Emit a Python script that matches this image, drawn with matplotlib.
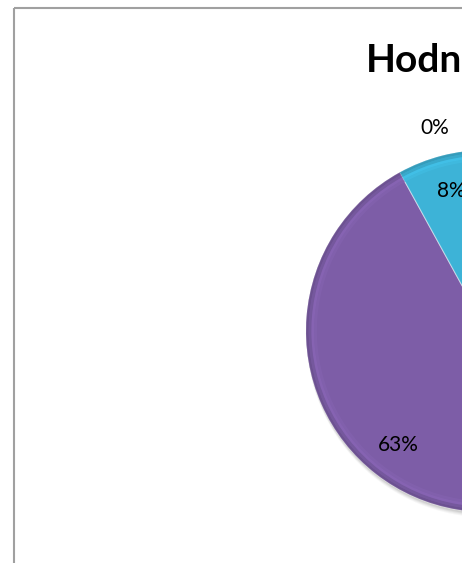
import matplotlib
matplotlib.use("Agg")
import matplotlib.pyplot as plt
from matplotlib.patches import Circle, Wedge, Rectangle
import numpy as np

plt.rcParams['font.family'] = ['Lato', 'DejaVu Sans']

# data (only the left part of the chart is visible in the picture)
title = "Hodnocení"
categories = ['1', '2', '3', '4', '5', '6']
values = [15, 8, 6, 63, 8, 0]
colors = ['#4F81BD', '#C0504D', '#9BBB59', '#7D5DA7', '#3DB3D7', '#F79646']

W, H = 469, 563
fig = plt.figure(figsize=(W / 100, H / 100), dpi=100)
fig.patch.set_facecolor('white')

ax = fig.add_axes([0, 0, 1, 1])
cx, cy, r = 487, H - 331, 181

# soft shadow under the pie
for k, a in [(5, 0.05), (4, 0.06), (3, 0.08), (2, 0.10)]:
    ax.add_patch(Circle((cx + 1, cy - k), r + 0.5, color='#555555', alpha=a, lw=0, zorder=1))


def fmt(p):
    return '%.0f%%' % p if p > 0.5 else ''


wedges, texts, autotexts = ax.pie(values, colors=colors, startangle=90, counterclock=False,
                                  center=(cx, cy), radius=r, autopct=fmt, pctdistance=0.8,
                                  wedgeprops=dict(edgecolor=(1, 1, 1, 0.45), linewidth=0.8, zorder=2),
                                  textprops=dict(fontsize=15, color='black'))

# bevel look: darker rim, lighter band just inside the edge
for w in wedges:
    th1, th2 = w.theta1, w.theta2
    if th2 - th1 <= 0:
        continue
    base = np.array(matplotlib.colors.to_rgb(w.get_facecolor()))
    for rr, f in [(1.0, 0.82), (0.985, 0.92), (0.97, 1.10), (0.955, 1.05)]:
        c = np.clip(base * f, 0, 1)
        ax.add_patch(Wedge((cx, cy), r * rr, th1, th2, width=r * 0.015,
                           facecolor=c, lw=0, alpha=0.7, zorder=2.5))

for t in autotexts:
    t.set_zorder(5)

# zero slice: label pushed outside, next to the previous slice
for i, v in enumerate(values):
    if v == 0:
        prev = wedges[i - 1]
        ang = np.deg2rad((prev.theta1 + prev.theta2) / 2)
        ax.text(cx + 1.16 * r * np.cos(ang), cy + 1.16 * r * np.sin(ang), '0%',
                fontsize=15, ha='center', va='center', zorder=5)

ax.text(366, H - 72, title, fontsize=28, fontweight='bold', ha='left', va='baseline', zorder=5)

# the picture is cut at x=462, nothing is shown right of it
ax.add_patch(Rectangle((462, -5), 20, H + 10, facecolor='white', edgecolor='none', zorder=20,
                       clip_on=False))

# chart border
ax.plot([14, 462], [H - 8, H - 8], color='#a0a0a0', lw=1.5, solid_capstyle='butt', zorder=21, clip_on=False)
ax.plot([14, 14], [H - 8, 0], color='#a0a0a0', lw=1.5, solid_capstyle='butt', zorder=21, clip_on=False)

ax.set_xlim(0, W)
ax.set_ylim(0, H)
ax.axis('off')

fig.savefig('out.png', dpi=100)
